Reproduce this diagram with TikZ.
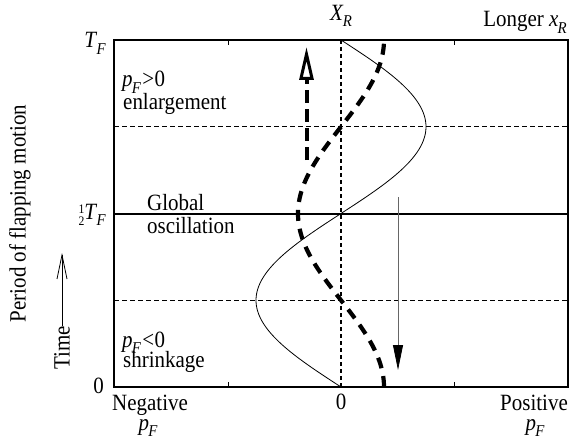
\documentclass[tikz,border=0pt]{standalone}
\usepackage{fontspec}
\setmainfont{Liberation Serif}[FakeStretch=0.9]
\usetikzlibrary{arrows.meta}
\newcommand{\sv}[2]{\textit{#1}\kern-0.03em\raisebox{-0.26em}{\fontsize{16.5}{16.5}\selectfont\textit{#2}}}
\newcommand{\halfsym}{\raisebox{-0.3em}{\fontsize{13}{9}\selectfont\shortstack{1\\[1pt]2}}}
\tikzset{
  lbl/.style={inner sep=0pt, anchor=base west},
  lblc/.style={inner sep=0pt, anchor=base},
  frame/.style={line width=2.5pt},
  midline/.style={line width=2pt},
  quarter/.style={line width=0.8pt, dash pattern=on 5pt off 3pt},
  centerline/.style={line width=1.8pt, dash pattern=on 4pt off 3pt},
  sinecurve/.style={line width=0.8pt},
  thickdash/.style={line width=4.2pt, dash pattern=on 11pt off 8pt},
}
\begin{document}
\begin{tikzpicture}[x=1pt,y=-1pt, font=\fontsize{23.3}{27}\selectfont]
\useasboundingbox (0,0) rectangle (570,441);
% frame coordinates
\coordinate (TL) at (114,40);
\coordinate (BR) at (568,387);
\coordinate (ML) at (114,213.5);
\coordinate (MR) at (568,213.5);
\coordinate (Q1L) at (114,126.75);
\coordinate (Q1R) at (568,126.75);
\coordinate (Q3L) at (114,300.25);
\coordinate (Q3R) at (568,300.25);
\coordinate (CT) at (341,40);
\coordinate (CB) at (341,387);
% quarter dashed lines
\draw[quarter] (Q1L) -- (Q1R);
\draw[quarter] (Q3L) -- (Q3R);
% center line
\draw[centerline] (CT) -- (CB);
% sine curve (X_R)
\draw[sinecurve] plot[domain=0:360, samples=150, smooth] ({341-85*sin(\x)},{387-347*(\x/360)});
% thick dashed curve (p_F)
\draw[thickdash] plot[domain=0:360, samples=150, smooth] ({341+43*cos(\x)},{387-347*(\x/360)});
% middle line
\draw[midline] (ML) -- (MR);
% frame
\draw[frame] (TL) rectangle (BR);
% ticks
\foreach \xx in {228,454} {
  \draw[line width=1pt] (\xx,40) -- (\xx,45);
  \draw[line width=1pt] (\xx,387) -- (\xx,382);
}
% thick dashed arrow up
\coordinate (DA1) at (306.5,160);
\coordinate (DA2) at (306.5,47);
\draw[line width=4pt, dash pattern=on 13pt off 6pt,
      -{Triangle[open, length=33pt, width=14pt, line width=3pt]}] (DA1) -- (DA2);
% thin arrow down
\coordinate (TA1) at (398,197);
\coordinate (TA2) at (398,370);
\draw[line width=0.8pt, draw=black!60, -{Triangle[length=25pt, width=10pt, color=black]}] (TA1) -- (TA2);
% labels
\node[lblc] (xr) at (341,20.5) {\sv{X}{R}};
\node[inner sep=0pt, anchor=base east] (longer) at (567,27) {Longer \sv{x}{R}};
\node[inner sep=0pt, anchor=base east] (tf) at (106,48) {\sv{T}{F}};
\node[inner sep=0pt, anchor=base east] (htf) at (106,219) {\halfsym\sv{T}{F}};
\node[inner sep=0pt, anchor=base east] (zero) at (104,393) {0};
\node[lbl] (pfpos) at (122,87) {\sv{p}{F}\kern0.05em{>}\kern0.02em0};
\node[lbl] (enl) at (123,110) {enlargement};
\node[lbl] (glob) at (147,210) {Global};
\node[lbl] (osc) at (147,233) {oscillation};
\node[lbl] (pfneg) at (122,347) {\sv{p}{F}\kern0.05em{<}\kern0.02em0};
\node[lbl] (shr) at (123,367.5) {shrinkage};
\node[lbl] (neg) at (112,410) {Negative};
\node[lblc] (negp) at (148,430) {\sv{p}{F}};
\node[lblc] (zc) at (341,409) {0};
\node[inner sep=0pt, anchor=base east] (pos) at (568,410) {Positive};
\node[lblc] (posp) at (535,430) {\sv{p}{F}};
\node[rotate=90, inner sep=0pt] (period) at (20,213.5) {Period of flapping motion};
\node[rotate=90, inner sep=0pt, anchor=west] (time) at (62,370) {Time};
\coordinate (TiT) at (62,253);
\draw[line width=0.8pt, -{Straight Barb[length=24pt, width=10pt, line width=0.8pt]}] (time.east) -- (TiT);
\end{tikzpicture}
\end{document}
